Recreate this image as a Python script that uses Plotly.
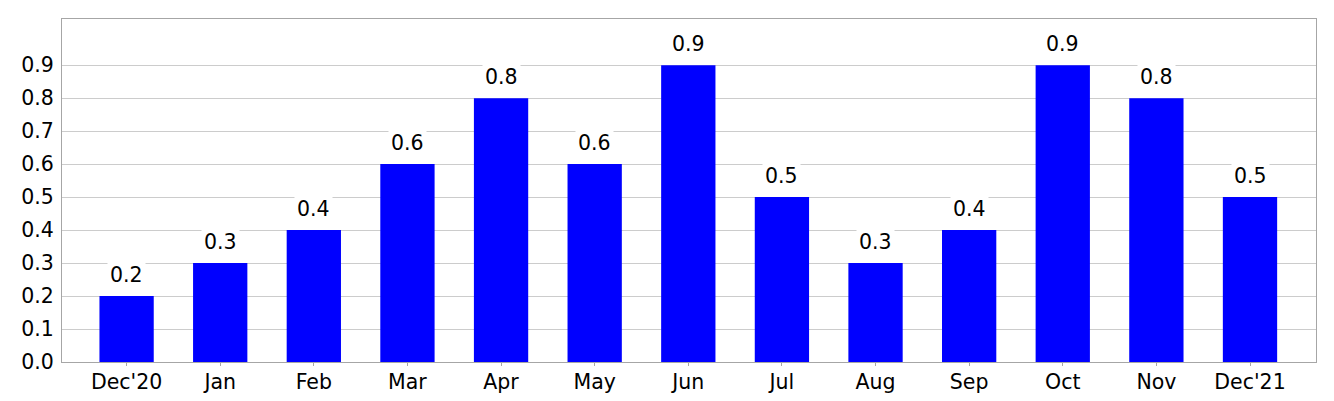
import plotly.graph_objects as go

categories = ["Dec'20", "Jan", "Feb", "Mar", "Apr", "May", "Jun", "Jul", "Aug", "Sep", "Oct", "Nov", "Dec'21"]
values = [0.2, 0.3, 0.4, 0.6, 0.8, 0.6, 0.9, 0.5, 0.3, 0.4, 0.9, 0.8, 0.5]
y_ticks = [0.0, 0.1, 0.2, 0.3, 0.4, 0.5, 0.6, 0.7, 0.8, 0.9]

FONT = "DejaVu Sans"
FS = 20.5

fig = go.Figure()
fig.add_trace(go.Bar(
    x=list(range(len(categories))), y=values,
    marker=dict(color="#0000ff", line=dict(width=0)),
    width=0.58,
))

for i, v in enumerate(values):
    fig.add_annotation(
        x=i, y=v, text=f"{v:.1f}", showarrow=False,
        yanchor="bottom", yshift=6,
        bgcolor="white", borderpad=2,
        font=dict(family=FONT, size=FS, color="black"),
    )

fig.update_layout(
    width=1334, height=401,
    margin=dict(l=62, r=18, t=19, b=39),
    plot_bgcolor="white", paper_bgcolor="white",
    showlegend=False,
    font=dict(family=FONT, size=FS, color="black"),
    xaxis=dict(
        range=[-0.69, 12.705], automargin=False,
        tickmode="array", tickvals=list(range(len(categories))), ticktext=categories,
        showgrid=False, zeroline=False,
        showline=True, linecolor="#a6a6a6", linewidth=1, mirror=True,
        ticks="outside", ticklen=3, tickcolor="#a6a6a6",
        ticklabelstandoff=-2,
        tickfont=dict(family=FONT, size=FS, color="black"),
    ),
    yaxis=dict(
        range=[0, 1.04], automargin=False,
        tickmode="array", tickvals=y_ticks, ticktext=[f"{t:.1f}" for t in y_ticks],
        showgrid=True, gridcolor="#cccccc", gridwidth=1,
        zeroline=False,
        showline=True, linecolor="#a6a6a6", linewidth=1, mirror=True,
        ticks="", ticklen=0,
        ticklabelstandoff=3,
        tickfont=dict(family=FONT, size=FS, color="black"),
    ),
)

fig.write_html(
    "out.html",
    config={"displayModeBar": False},
    post_script="document.body.style.margin='0';document.body.style.overflow='hidden';",
)
